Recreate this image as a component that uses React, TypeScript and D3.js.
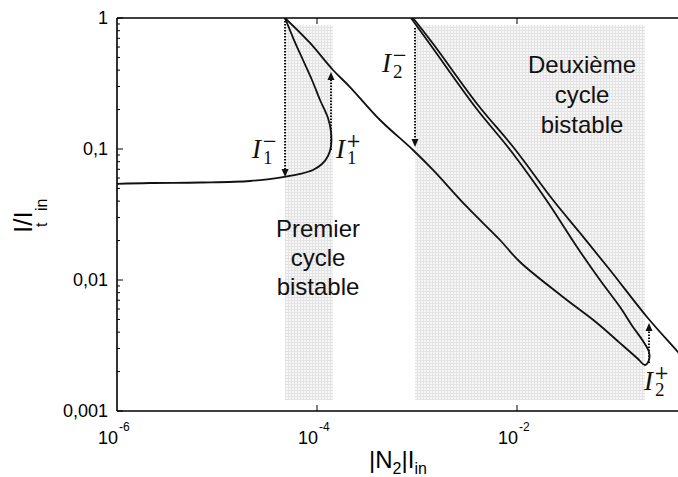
import React from "react";
import * as d3 from "d3";

const W = 678;
const H = 477;

// Axis ticks
const xMajorTicks = [1e-6, 1e-4, 1e-2];
const xTickExponents = ["-6", "-4", "-2"];
const yMajorTicks = [1, 0.1, 0.01, 0.001];
const yTickLabels = ["1", "0,1", "0,01", "0,001"];

// Lower plateau and first S-turn up to I/I = 1
const branchA: [number, number][] = [
  [1e-6, 0.0541],
  [2.14e-6, 0.055],
  [6.76e-6, 0.0555],
  [2.14e-5, 0.057],
  [4.57e-5, 0.0611],
  [6.76e-5, 0.0645],
  [9.12e-5, 0.0692],
  [1.122e-4, 0.0768],
  [1.288e-4, 0.0884],
  [1.38e-4, 0.1054],
  [1.38e-4, 0.1349],
  [1.288e-4, 0.1724],
  [1.072e-4, 0.2366],
  [8.91e-5, 0.3363],
  [7.24e-5, 0.478],
  [5.89e-5, 0.679],
  [4.79e-5, 1],
];

// Descending branch to the second turning point and back up
const branchB: [number, number][] = [
  [4.79e-5, 1],
  [8.51e-5, 0.645],
  [1.445e-4, 0.401],
  [2.138e-4, 0.2973],
  [4.27e-4, 0.1665],
  [9.12e-4, 0.0983],
  [1.445e-3, 0.0692],
  [3.162e-3, 0.0361],
  [6.76e-3, 0.0202],
  [1.072e-2, 0.01372],
  [2.884e-2, 0.00742],
  [6.31e-2, 0.0047],
  [0.1072, 0.0033],
  [0.1585, 0.00254],
  [0.1905, 0.002244],
  [0.2089, 0.00245],
  [0.2089, 0.00282],
  [0.182, 0.00342],
  [0.1445, 0.00438],
  [0.1072, 0.00622],
  [6.76e-2, 0.01],
  [3.98e-2, 0.01786],
  [1.995e-2, 0.0401],
  [8.71e-3, 0.0965],
  [3.89e-3, 0.2056],
  [1.413e-3, 0.6005],
  [8.71e-4, 1],
];

// Outer descending branch
const branchC: [number, number][] = [
  [9.12e-4, 1],
  [1.479e-3, 0.622],
  [4.07e-3, 0.2168],
  [9.33e-3, 0.1018],
  [2.291e-2, 0.0408],
  [4.27e-2, 0.02285],
  [8.51e-2, 0.01192],
  [0.1995, 0.00522],
  [0.407, 0.00282],
  [0.676, 0.001818],
];

// Shaded bistable regions (x ranges) and their vertical extent
const shadeX0 = [4.79e-5, 9.55e-4];
const shadeX1 = [1.445e-4, 0.1905];
const shadeYRange = [0.001213, 0.884];

// Transition arrows
const arrowX = [4.79e-5, 1.38e-4, 9.55e-4, 0.2089];
const arrowFrom = [1, 0.0983, 0.839, 0.002325];
const arrowTo = [0.0611, 0.387, 0.1036, 0.0047];

const SANS = "'Liberation Sans', Arial, Helvetica, sans-serif";
const SERIF = "'Liberation Serif', 'Times New Roman', serif";

function MathLabel({ px, py, sub, sup }: { px: number; py: number; sub: string; sup: string }) {
  return (
    <g fontFamily={SERIF} fill="#111">
      <text x={px} y={py} fontSize={27} fontStyle="italic">I</text>
      <text x={px + 11} y={py + 6} fontSize={19}>{sub}</text>
      <text x={px + 10} y={py - 11} fontSize={18} fontFamily="'DejaVu Serif', serif">{sup}</text>
    </g>
  );
}

export default function App() {
  const x = d3.scaleLog().domain([1e-6, 1]).range([117, 717]);
  const y = d3.scaleLog().domain([0.001, 1]).range([411, 18]);
  const line = d3
    .line<[number, number]>()
    .x((d) => x(d[0]))
    .y((d) => y(d[1]))
    .curve(d3.curveCatmullRom.alpha(0.5));

  const yAll = y.ticks();
  const isMajor = (v: number) => Math.abs(Math.log10(v) - Math.round(Math.log10(v))) < 1e-6;

  return (
    <svg
      width={W}
      height={H}
      style={{ position: "absolute", left: 0, top: 0, background: "#fff" }}
    >
      <defs>
        <pattern id="dots" width={3} height={3} patternUnits="userSpaceOnUse">
          <rect width={3} height={3} fill="#f7f7f7" />
          <rect width={1} height={3} fill="#e3e3e3" />
          <rect width={3} height={1} fill="#e3e3e3" />
        </pattern>
        <clipPath id="plot">
          <rect x={117} y={18} width={600} height={393} />
        </clipPath>
      </defs>
      <rect width={W} height={H} fill="#fff" />

      {shadeX0.map((x0, i) => (
        <rect
          key={i}
          x={x(x0)}
          y={y(shadeYRange[1])}
          width={x(shadeX1[i]) - x(x0)}
          height={y(shadeYRange[0]) - y(shadeYRange[1])}
          fill="url(#dots)"
        />
      ))}

      {/* text in regions */}
      <g fontFamily={SANS} fontSize={24} fill="#111" textAnchor="middle">
        <text x={318} y={237}>Premier</text>
        <text x={318} y={266}>cycle</text>
        <text x={318} y={295}>bistable</text>
        <text x={582} y={73}>Deuxième</text>
        <text x={582} y={103}>cycle</text>
        <text x={582} y={133}>bistable</text>
      </g>

      {/* arrows */}
      {arrowX.map((xv, i) => {
        const px = x(xv);
        const p0 = y(arrowFrom[i]);
        const p1 = y(arrowTo[i]);
        const dir = p1 > p0 ? 1 : -1;
        const hl = 8;
        return (
          <g key={i}>
            <line
              x1={px}
              x2={px}
              y1={p0}
              y2={p1 - dir * hl}
              stroke="#111"
              strokeWidth={2}
              strokeDasharray="1.5 1.5"
            />
            <polygon
              points={`${px},${p1} ${px - 3.5},${p1 - dir * hl} ${px + 3.5},${p1 - dir * hl}`}
              fill="#111"
            />
          </g>
        );
      })}

      <g clipPath="url(#plot)" fill="none" stroke="#111" strokeWidth={1.8} strokeLinejoin="round">
        <path d={line(branchA) || ""} />
        <path d={line(branchB) || ""} />
        <path d={line(branchC) || ""} />
      </g>

      {/* axes */}
      <g stroke="#000" fill="none">
        <line x1={117} x2={W} y1={18} y2={18} strokeWidth={1.6} />
        <line x1={117} x2={W} y1={411} y2={411} strokeWidth={1.6} />
        <line x1={117} x2={117} y1={18} y2={411} strokeWidth={1.6} />
        {yAll.map((v, i) => (
          <line
            key={i}
            x1={117}
            x2={117 + (isMajor(v) ? 6 : 3)}
            y1={y(v)}
            y2={y(v)}
            strokeWidth={1}
          />
        ))}
        {xMajorTicks.slice(1).map((v, i) => (
          <g key={i}>
            <line x1={x(v)} x2={x(v)} y1={411} y2={405} strokeWidth={1} />
            <line x1={x(v)} x2={x(v)} y1={18} y2={24} strokeWidth={1} />
          </g>
        ))}
      </g>

      {/* y tick labels */}
      <g fontFamily={SANS} fontSize={18} fill="#000" textAnchor="end">
        {yMajorTicks.map((v, i) => (
          <text key={i} x={108} y={y(v)} dy="0.35em">
            {yTickLabels[i]}
          </text>
        ))}
      </g>

      {/* x tick labels */}
      <g fontFamily={SANS} fill="#000">
        {xMajorTicks.map((v, i) => (
          <g key={i}>
            <text x={x(v) + 1} y={444} fontSize={18} textAnchor="end">10</text>
            <text x={x(v) + 2} y={431} fontSize={12}>{xTickExponents[i]}</text>
          </g>
        ))}
      </g>

      {/* x axis label */}
      <text x={369} y={468} fontFamily={SANS} fontSize={24} fill="#000">
        |N<tspan fontSize={16} dy={6}>2</tspan>
        <tspan dy={-6}>|I</tspan>
        <tspan fontSize={16} dy={6}>in</tspan>
      </text>

      {/* y axis label */}
      <g transform="translate(32,233) rotate(-90)" fontFamily={SANS} fill="#000">
        <text x={0} y={0} fontSize={26}>I/I</text>
        <text x={6} y={15} fontSize={16}>t</text>
        <text x={22} y={15} fontSize={16}>in</text>
      </g>

      {/* math annotations */}
      <MathLabel px={252} py={158} sub="1" sup="−" />
      <MathLabel px={336} py={158} sub="1" sup="+" />
      <MathLabel px={382} py={72} sub="2" sup="−" />
      <MathLabel px={644} py={390} sub="2" sup="+" />
    </svg>
  );
}
